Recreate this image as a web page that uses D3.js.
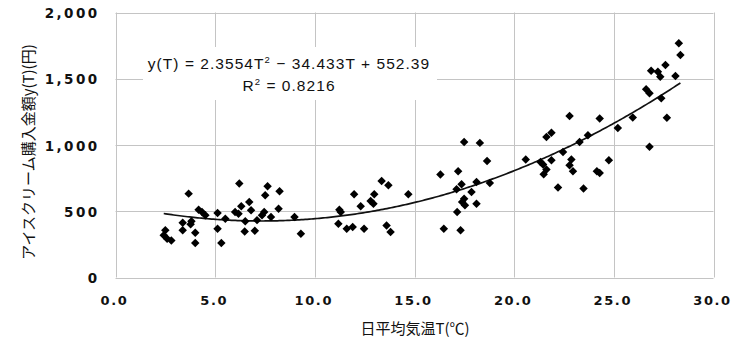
<!DOCTYPE html>
<html>
<head>
<meta charset="utf-8">
<script src="https://cdn.jsdelivr.net/npm/d3@7"></script>
<style>
  html, body { margin: 0; padding: 0; background: #fff; }
  svg { display: block; }
  .tick-label { font-family: "DejaVu Sans", sans-serif; font-weight: bold; font-size: 13.5px; letter-spacing: 2.4px; fill: #111; }
  .x-tick { font-size: 13px; letter-spacing: 1.6px; }
  .axis-title { font-family: "Noto Sans CJK JP", sans-serif; font-size: 15px; fill: #111; }
  .eq { font-family: "Liberation Sans", Arial, sans-serif; font-size: 15.5px; letter-spacing: 1.05px; fill: #111; }
</style>
</head>
<body>
<svg id="chart" width="732" height="340"></svg>
<script>
// Daily mean temperature (°C) and ice cream spending (yen)
const temps = [
  2.42, 2.50, 2.59, 2.80, 3.37, 3.37, 3.67, 3.81, 3.77, 4.00,
  4.00, 4.17, 4.34, 4.51, 5.12, 5.12, 5.31, 5.51, 6.00, 6.17,
  6.21, 6.31, 6.51, 6.48, 6.71, 6.80, 6.99, 7.10, 7.35, 7.46,
  7.51, 7.63, 7.80, 8.18, 8.23, 8.98, 9.30, 11.18, 11.23, 11.30,
  11.60, 11.90, 11.97, 12.30, 12.47, 12.80, 12.94, 12.98, 13.35, 13.60,
  13.69, 13.80, 14.69, 16.30, 16.47, 17.11, 17.14, 17.19, 17.31, 17.36,
  17.39, 17.49, 17.53, 17.49, 17.86, 18.11, 18.11, 18.28, 18.64, 18.78,
  20.58, 21.32, 21.45, 21.48, 21.62, 21.62, 21.87, 21.87, 22.20, 22.45,
  22.78, 22.78, 22.87, 22.95, 23.28, 23.48, 23.70, 24.15, 24.29, 24.29,
  24.75, 25.20, 25.95, 26.62, 26.79, 26.79, 26.87, 27.21, 27.33, 27.38,
  27.59, 27.66, 28.09, 28.26, 28.34
];
const spending = [
  318, 356, 293, 280, 414, 356, 633, 424, 401, 338,
  260, 512, 494, 469, 486, 368, 260, 444, 494, 482,
  709, 537, 424, 348, 570, 507, 352, 433, 469, 494,
  620, 688, 456, 519, 651, 456, 330, 406, 512, 494,
  368, 381, 628, 537, 368, 577, 557, 628, 729, 393,
  696, 343, 628, 778, 368, 666, 494, 802, 356, 703,
  570, 595, 545, 1023, 645, 721, 557, 1016, 880, 713,
  890, 872, 852, 779, 815, 1061, 1092, 885, 679, 948,
  1218, 847, 890, 802, 1023, 671, 1074, 802, 789, 1200,
  885, 1129, 1208, 1420, 1390, 986, 1561, 1553, 1515, 1352,
  1604, 1205, 1520, 1768, 1679
];

// Quadratic trend line coefficients: y(T) = a T^2 + b T + c
const fitA = 2.3554, fitB = -34.433, fitC = 552.39;
const rSquared = 0.8216;

const xTicks = [0, 5, 10, 15, 20, 25, 30];
const yTicks = [0, 500, 1000, 1500, 2000];

const svg = d3.select("#chart");
const x = d3.scaleLinear().domain([0, 30]).range([115.5, 713.5]);
const y = d3.scaleLinear().domain([0, 2000]).range([277.5, 12.5]);

const grid = svg.append("g").attr("stroke", "#c4c4c4").attr("stroke-width", 1);
grid.selectAll(".v").data(xTicks).join("line")
  .attr("x1", d => Math.round(x(d)) + 0.5).attr("x2", d => Math.round(x(d)) + 0.5)
  .attr("y1", y(0)).attr("y2", y(2000));
grid.selectAll(".h").data(yTicks).join("line")
  .attr("y1", d => Math.round(y(d)) + 0.5).attr("y2", d => Math.round(y(d)) + 0.5)
  .attr("x1", x(0)).attr("x2", x(30));

// Tick labels
svg.append("g").selectAll("text").data(yTicks).join("text")
  .attr("class", "tick-label")
  .attr("x", 99.5).attr("y", d => y(d) + 5.5)
  .attr("text-anchor", "end")
  .text(d3.format(","));
svg.append("g").selectAll("text").data(xTicks).join("text")
  .attr("class", "tick-label x-tick")
  .attr("x", d => x(d) - 1).attr("y", 305)
  .attr("text-anchor", "middle")
  .text(d3.format(".1f"));

// Axis titles
svg.append("text").attr("class", "axis-title")
  .attr("x", 415).attr("y", 334).attr("text-anchor", "middle")
  .text("日平均気温T(℃)");
svg.append("text").attr("class", "axis-title")
  .attr("transform", "translate(34,152) rotate(-90)")
  .attr("text-anchor", "middle")
  .text("アイスクリーム購入金額y(T)(円)");

// Equation label with white backing
svg.append("rect").attr("x", 143).attr("y", 47).attr("width", 294).attr("height", 53).attr("fill", "#fff");
const eq1 = svg.append("text").attr("class", "eq").attr("x", 289).attr("y", 69).attr("text-anchor", "middle");
eq1.append("tspan").text(`y(T) = ${fitA}T`);
eq1.append("tspan").attr("dy", -6).attr("font-size", "9.5px").text("2");
eq1.append("tspan").attr("dy", 6).text(` − ${Math.abs(fitB)}T + ${fitC}`);
const eq2 = svg.append("text").attr("class", "eq").attr("x", 289).attr("y", 91).attr("text-anchor", "middle");
eq2.append("tspan").text("R");
eq2.append("tspan").attr("dy", -6).attr("font-size", "9.5px").text("2");
eq2.append("tspan").attr("dy", 6).text(` = ${rSquared}`);

// Trend curve over the observed temperature range
const tMin = d3.min(temps), tMax = d3.max(temps);
const curveT = d3.range(tMin, tMax, 0.1).concat([tMax]);
svg.append("path")
  .datum(curveT)
  .attr("fill", "none").attr("stroke", "#111").attr("stroke-width", 1.7)
  .attr("d", d3.line().x(t => x(t)).y(t => y(fitA * t * t + fitB * t + fitC)));

// Diamond markers
const diamond = d3.symbol().type(d3.symbolSquare).size(36);
svg.append("g").selectAll("path").data(d3.zip(temps, spending)).join("path")
  .attr("d", diamond)
  .attr("fill", "#000")
  .attr("transform", d => `translate(${x(d[0])},${y(d[1])}) rotate(45)`);
</script>
</body>
</html>
